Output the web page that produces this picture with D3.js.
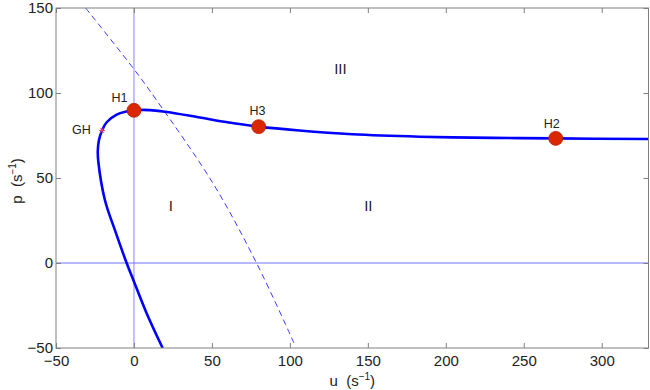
<!DOCTYPE html>
<html>
<head>
<meta charset="utf-8">
<script src="https://cdn.jsdelivr.net/npm/d3@7/dist/d3.min.js"></script>
<style>
body { margin: 0; background: #fff; }
svg { display: block; font-family: "Liberation Sans", Arial, Helvetica, sans-serif; }
</style>
</head>
<body>
<svg id="chart" width="650" height="390"></svg>
<script>
// Main bifurcation curve (u, p)
const curveU = [18.4, 8.1, -0.4, -4.7, -12.2, -18.6, -22.9, -23.2, -22.5, -20.5, -17.5, -11.1, -4.7, 0, 6, 10.3, 20, 42.3, 60, 80, 106, 140, 183, 230, 270, 330];
const curveP = [-50, -29.5, -10, 0, 19.3, 36.9, 60, 66, 72, 78, 82.8, 87.3, 89.1, 89.8, 90.1, 89.9, 89, 85.6, 82.8, 80.2, 77.9, 75.7, 74.3, 73.6, 73.3, 72.9];
// Dashed boundary curve
const dashU = [-31, 0, 14.7, 50.8, 78.6, 102.6];
const dashP = [150, 114, 95.5, 46.7, 0, -47];
// Hopf points
const hopfNames = ["H1", "H3", "H2"];
const hopfU = [0, 80, 270.5];
const hopfP = [89.8, 80.2, 73.3];
const hopfLabelU = [-9.3, 79.2, 268];
const hopfLabelP = [95, 86.8, 79.7];
// GH point
const ghU = -20.5, ghP = 78;
const ghLabelU = -33.7, ghLabelP = 75.9;
// Region labels
const regionNames = ["I", "II", "III"];
const regionU = [23.7, 150.3, 132.4];
const regionP = [30.5, 30.5, 111];
// Ticks
const xTicks = [-50, 0, 50, 100, 150, 200, 250, 300];
const yTicks = [-50, 0, 50, 100, 150];

const svg = d3.select("#chart");
const W = 650, H = 390;
const m = { left: 56, right: 1.5, top: 8, bottom: 42 };
const x = d3.scaleLinear().domain([-50, 330]).range([m.left, W - m.right]);
const y = d3.scaleLinear().domain([-50, 150]).range([H - m.bottom, m.top]);

const axisColor = "#808080";
const textColor = "#222";

svg.append("clipPath").attr("id", "clip").append("rect")
  .attr("x", x(-50)).attr("y", y(150)).attr("width", x(330) - x(-50)).attr("height", y(-50) - y(150));

const g = svg.append("g").attr("clip-path", "url(#clip)");

// reference lines u=0 and p=0
g.append("line").attr("x1", x(0)).attr("x2", x(0)).attr("y1", y(150)).attr("y2", y(-50))
  .attr("stroke", "#9a9aff").attr("stroke-width", 1.2);
g.append("line").attr("x1", x(-50)).attr("x2", x(330)).attr("y1", y(0)).attr("y2", y(0))
  .attr("stroke", "#7070ff").attr("stroke-width", 1);

// dashed curve
const dashData = dashU.map((u, i) => [u, dashP[i]]);
g.append("path").datum(dashData)
  .attr("d", d3.line().x(d => x(d[0])).y(d => y(d[1])).curve(d3.curveCatmullRom))
  .attr("fill", "none").attr("stroke", "#3a3aff").attr("stroke-width", 1)
  .attr("stroke-dasharray", "6,4");

// main curve
const curveData = curveU.map((u, i) => [u, curveP[i]]);
g.append("path").datum(curveData)
  .attr("d", d3.line().x(d => x(d[0])).y(d => y(d[1])).curve(d3.curveCatmullRom))
  .attr("fill", "none").attr("stroke", "#0000ff").attr("stroke-width", 2.6);

// GH marker (asterisk)
const gh = g.append("g").attr("transform", `translate(${x(ghU)},${y(ghP)})`)
  .attr("stroke", "#ff3355").attr("stroke-width", 0.9);
[0, 60, 120].forEach(a => {
  const r = 3, rad = a * Math.PI / 180;
  gh.append("line").attr("x1", -r * Math.cos(rad)).attr("y1", -r * Math.sin(rad))
    .attr("x2", r * Math.cos(rad)).attr("y2", r * Math.sin(rad));
});

// Hopf markers
g.selectAll("circle.hopf").data(hopfU).enter().append("circle")
  .attr("class", "hopf")
  .attr("cx", d => x(d)).attr("cy", (d, i) => y(hopfP[i])).attr("r", 7)
  .attr("fill", "#d92800").attr("stroke", "#b82000").attr("stroke-width", 0.8);

// Hopf labels
svg.selectAll("text.hl").data(hopfNames).enter().append("text")
  .attr("x", (d, i) => x(hopfLabelU[i])).attr("y", (d, i) => y(hopfLabelP[i]))
  .attr("text-anchor", "middle").attr("font-size", 12.5).attr("fill", textColor).text(d => d);

svg.append("text").attr("x", x(ghLabelU)).attr("y", y(ghLabelP))
  .attr("text-anchor", "middle").attr("font-size", 12.5).attr("fill", textColor).text("GH");

svg.selectAll("text.rl").data(regionNames).enter().append("text")
  .attr("x", (d, i) => x(regionU[i])).attr("y", (d, i) => y(regionP[i]))
  .attr("text-anchor", "middle").attr("font-size", 15).attr("fill", textColor).text(d => d);

// Axes box
svg.append("rect").attr("x", x(-50)).attr("y", y(150))
  .attr("width", x(330) - x(-50)).attr("height", y(-50) - y(150))
  .attr("fill", "none").attr("stroke", axisColor).attr("stroke-width", 1);

function styleAxis(sel) {
  sel.select(".domain").remove();
  sel.selectAll(".tick line").attr("stroke", axisColor);
  sel.selectAll(".tick text").attr("fill", textColor).attr("font-size", 15)
    .attr("font-family", "\"Liberation Sans\", Arial, sans-serif");
}
const fmt = d => (d < 0 ? "\u2212" + Math.abs(d) : "" + d);

svg.append("g").attr("transform", `translate(0,${y(-50)})`)
  .call(d3.axisBottom(x).tickValues(xTicks).tickSize(-5).tickPadding(7).tickFormat(fmt))
  .call(styleAxis);
svg.append("g").attr("transform", `translate(0,${y(150)})`)
  .call(d3.axisTop(x).tickValues(xTicks).tickSize(-5).tickFormat(""))
  .call(styleAxis);
svg.append("g").attr("transform", `translate(${x(-50)},0)`)
  .call(d3.axisLeft(y).tickValues(yTicks).tickSize(-5).tickPadding(3).tickFormat(fmt))
  .call(styleAxis);
svg.append("g").attr("transform", `translate(${x(330)},0)`)
  .call(d3.axisRight(y).tickValues(yTicks).tickSize(-5).tickFormat(""))
  .call(styleAxis);

// Axis labels
const xl = svg.append("text").attr("x", (x(-50) + x(330)) / 2).attr("y", 386)
  .attr("text-anchor", "middle").attr("font-size", 15).attr("fill", textColor);
xl.append("tspan").text("u\u00a0\u00a0(s");
xl.append("tspan").attr("font-size", 10).attr("dy", -6).text("\u22121");
xl.append("tspan").attr("dy", 6).text(")");

const yl = svg.append("text").attr("transform", `translate(22,${(y(-50) + y(150)) / 2 + 3}) rotate(-90)`)
  .attr("text-anchor", "middle").attr("font-size", 15).attr("fill", textColor);
yl.append("tspan").text("p\u00a0\u00a0(s");
yl.append("tspan").attr("font-size", 10).attr("dy", -6).text("\u22121");
yl.append("tspan").attr("dy", 6).text(")");
</script>
</body>
</html>
